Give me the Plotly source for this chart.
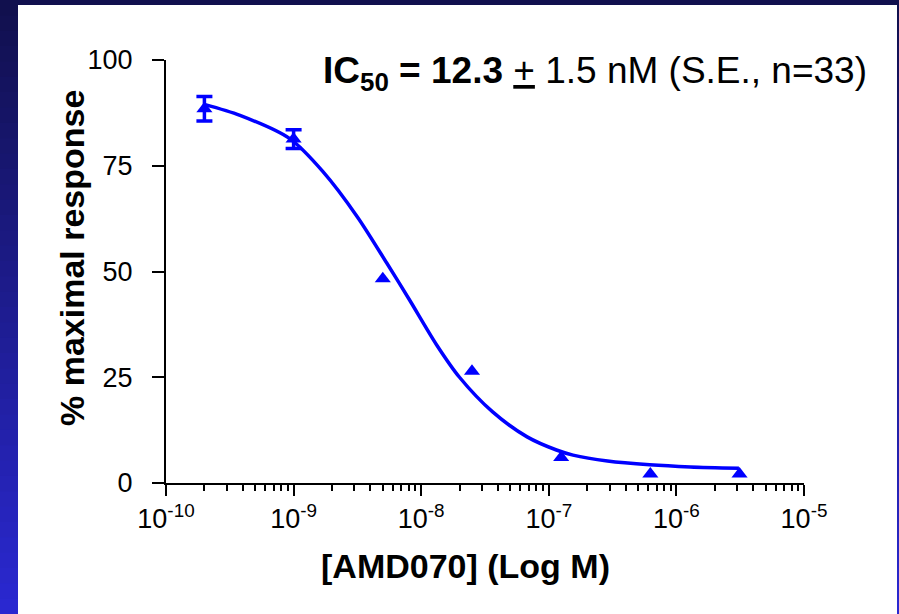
import plotly.graph_objects as go

# ---- data ----
conc_M = [2.0e-10, 1.0e-9, 5.0e-9, 2.5e-8, 1.25e-7, 6.25e-7, 3.125e-6]
response_pct = [88.5, 81.3, 48.3, 26.4, 6.0, 2.1, 2.1]
response_se = [2.9, 2.2, 0.0, 0.0, 0.0, 0.0, 0.0]

# fitted curve (log10 molar, % response)
fit_log_conc = [-9.70, -9.42, -9.03, -8.77, -8.50, -8.27, -8.09, -7.88,
                -7.70, -7.44, -7.17, -6.94, -6.81, -6.54, -6.21, -5.89, -5.51]
fit_response = [89.5, 86.9, 81.4, 73.6, 62.9, 52.0, 43.2, 32.7,
                25.0, 16.8, 10.9, 7.8, 6.6, 5.2, 4.3, 3.8, 3.5]

x_tick_vals = [1e-10, 1e-9, 1e-8, 1e-7, 1e-6, 1e-5]
x_tick_text = ["10<sup>-10</sup>", "10<sup>-9</sup>", "10<sup>-8</sup>",
               "10<sup>-7</sup>", "10<sup>-6</sup>", "10<sup>-5</sup>"]
y_tick_vals = [0, 25, 50, 75, 100]

BLUE = "#0000ff"
FONT = "Liberation Sans, Arial, Helvetica, sans-serif"

W, H = 899, 614
ML, MR, MT, MB = 166, 95, 60, 131
PW, PH = W - ML - MR, H - MT - MB


def px_x(px):
    return (px - ML) / PW


def px_y(py):
    return (H - MB - py) / PH


fig = go.Figure()

fig.add_trace(go.Scatter(
    x=[10 ** v for v in fit_log_conc], y=fit_response,
    mode="lines", line=dict(color=BLUE, width=3.5, shape="spline", smoothing=0.8),
    hoverinfo="skip", showlegend=False))

err_idx = [i for i, s in enumerate(response_se) if s > 0]
fig.add_trace(go.Scatter(
    x=[conc_M[i] for i in err_idx], y=[response_pct[i] for i in err_idx],
    mode="markers", marker=dict(size=1, color=BLUE, opacity=0),
    error_y=dict(type="data", array=[response_se[i] for i in err_idx],
                 color=BLUE, thickness=3.5, width=8, visible=True),
    showlegend=False))

fig.add_trace(go.Scatter(
    x=conc_M, y=response_pct, mode="markers",
    marker=dict(symbol="triangle-up", size=14, color=BLUE, line=dict(width=0)),
    showlegend=False))

# background: dark-blue gradient frame with white panel
shapes = []
n_bands = 40
top_c = (17, 16, 78)
bot_c = (42, 40, 208)
for i in range(n_bands):
    t = i / (n_bands - 1)
    c = tuple(int(round(a + (b - a) * t)) for a, b in zip(top_c, bot_c))
    y0 = H * i / n_bands
    y1 = H * (i + 1) / n_bands + 1
    shapes.append(dict(type="rect", xref="paper", yref="paper", layer="below",
                       x0=px_x(0), x1=px_x(W), y0=px_y(y1), y1=px_y(y0),
                       fillcolor="rgb(%d,%d,%d)" % c, line=dict(width=0)))
shapes.append(dict(type="rect", xref="paper", yref="paper", layer="below",
                   x0=px_x(18), x1=px_x(897), y0=px_y(H + 2), y1=px_y(5),
                   fillcolor="white", line=dict(width=0)))

annotations = [
    dict(text="<b>[AMD070] (Log M)</b>", xref="paper", yref="paper",
         x=px_x(465), y=px_y(566), xanchor="center", yanchor="middle",
         showarrow=False, font=dict(size=34, color="black", family=FONT)),
    dict(text="<b>% maximal response</b>", xref="paper", yref="paper",
         x=px_x(72), y=px_y(258), xanchor="center", yanchor="middle",
         textangle=-90, showarrow=False,
         font=dict(size=34, color="black", family=FONT)),
    dict(text="<b>IC<sub>50</sub> = 12.3 </b><span style=\"text-decoration:underline\">+</span> 1.5 nM (S.E., n=33)",
         xref="paper", yref="paper", x=px_x(869), y=px_y(73),
         xanchor="right", yanchor="middle", showarrow=False,
         font=dict(size=37, color="black", family=FONT)),
]

fig.update_layout(
    width=W, height=H,
    margin=dict(l=ML, r=MR, t=MT, b=MB, pad=0),
    paper_bgcolor="white", plot_bgcolor="rgba(0,0,0,0)",
    font=dict(family=FONT, color="black"),
    shapes=shapes, annotations=annotations,
    xaxis=dict(type="log", range=[-10, -5], showgrid=False, zeroline=False,
               showline=True, linecolor="black", linewidth=2,
               ticks="outside", ticklen=11, tickwidth=2, tickcolor="black",
               tickmode="array", tickvals=x_tick_vals, ticktext=x_tick_text,
               tickfont=dict(size=27, color="black", family=FONT),
               minor=dict(ticks="outside", ticklen=6, tickwidth=1.5,
                          tickcolor="black", dtick="D1", showgrid=False)),
    yaxis=dict(range=[0, 100], showgrid=False, zeroline=False,
               showline=True, linecolor="black", linewidth=2,
               ticks="outside", ticklen=12, tickwidth=2, tickcolor="black",
               tickmode="array", tickvals=y_tick_vals,
               ticklabelstandoff=14,
               tickfont=dict(size=27, color="black", family=FONT)),
)

fig.write_html("out.html", config={"displayModeBar": False},
               post_script="document.body.style.margin='0px';document.body.style.overflow='hidden';")
